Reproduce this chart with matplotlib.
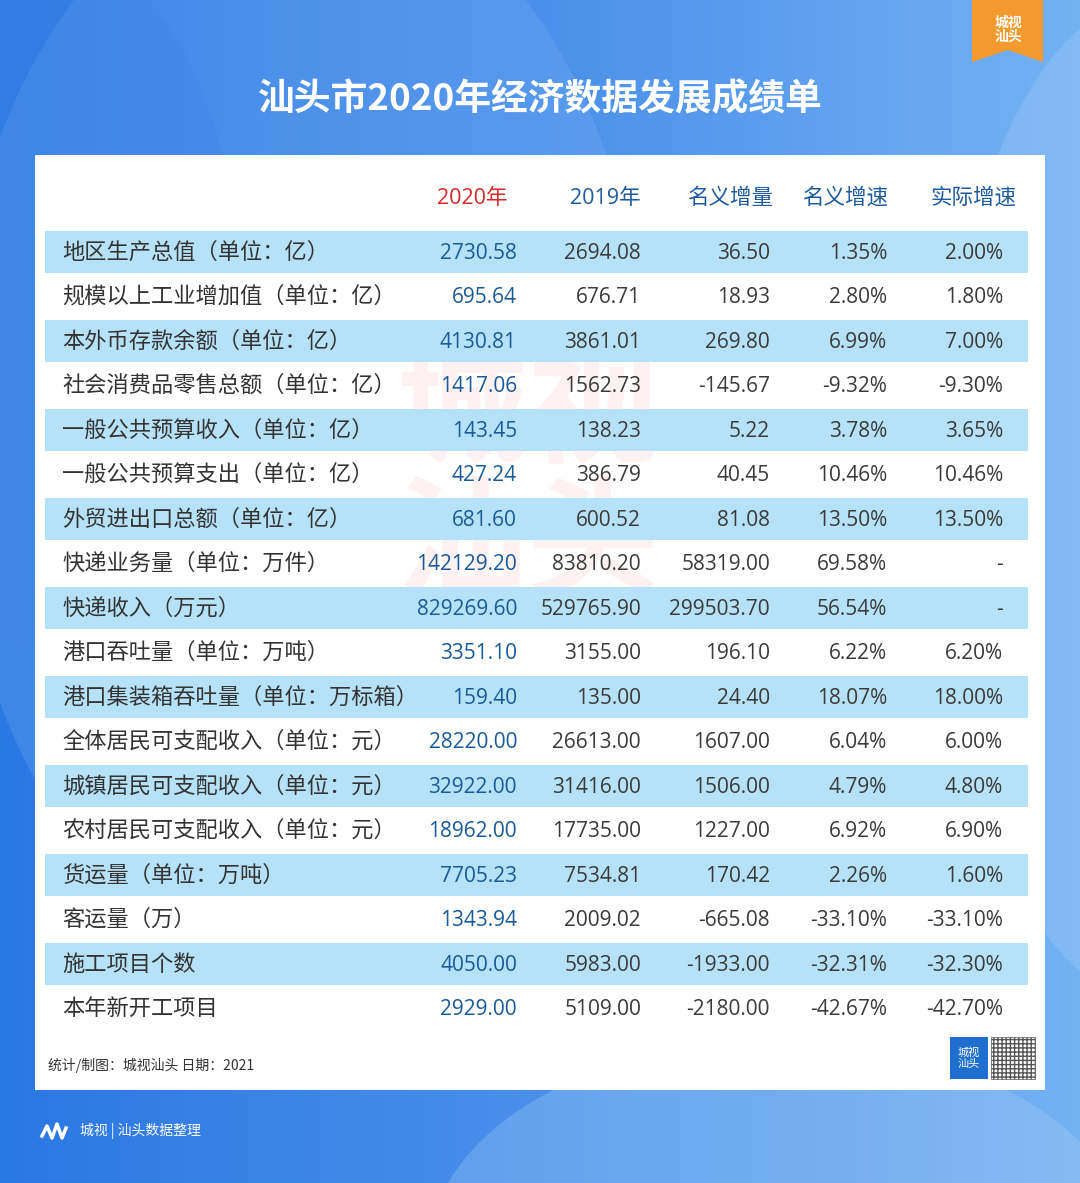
import matplotlib.pyplot as plt
from matplotlib.patches import Rectangle, Polygon, Ellipse
from matplotlib.colors import LinearSegmentedColormap
import numpy as np

plt.rcParams['font.family'] = ['Noto Sans CJK SC', 'DejaVu Sans']
NUM_FONT = ['Open Sans', 'Noto Sans CJK SC']

# table data
title = "汕头市2020年经济数据发展成绩单"
headers = ["2020年", "2019年", "名义增量", "名义增速", "实际增速"]
items = ["地区生产总值（单位：亿）", "规模以上工业增加值（单位：亿）", "本外币存款余额（单位：亿）",
         "社会消费品零售总额（单位：亿）", "一般公共预算收入（单位：亿）", "一般公共预算支出（单位：亿）",
         "外贸进出口总额（单位：亿）", "快递业务量（单位：万件）", "快递收入（万元）",
         "港口吞吐量（单位：万吨）", "港口集装箱吞吐量（单位：万标箱）", "全体居民可支配收入（单位：元）",
         "城镇居民可支配收入（单位：元）", "农村居民可支配收入（单位：元）", "货运量（单位：万吨）",
         "客运量（万）", "施工项目个数", "本年新开工项目"]
v2020 = ["2730.58", "695.64", "4130.81", "1417.06", "143.45", "427.24", "681.60", "142129.20",
         "829269.60", "3351.10", "159.40", "28220.00", "32922.00", "18962.00", "7705.23",
         "1343.94", "4050.00", "2929.00"]
v2019 = ["2694.08", "676.71", "3861.01", "1562.73", "138.23", "386.79", "600.52", "83810.20",
         "529765.90", "3155.00", "135.00", "26613.00", "31416.00", "17735.00", "7534.81",
         "2009.02", "5983.00", "5109.00"]
nominal_inc = ["36.50", "18.93", "269.80", "-145.67", "5.22", "40.45", "81.08", "58319.00",
               "299503.70", "196.10", "24.40", "1607.00", "1506.00", "1227.00", "170.42",
               "-665.08", "-1933.00", "-2180.00"]
nominal_rate = ["1.35%", "2.80%", "6.99%", "-9.32%", "3.78%", "10.46%", "13.50%", "69.58%",
                "56.54%", "6.22%", "18.07%", "6.04%", "4.79%", "6.92%", "2.26%",
                "-33.10%", "-32.31%", "-42.67%"]
real_rate = ["2.00%", "1.80%", "7.00%", "-9.30%", "3.65%", "10.46%", "13.50%", "-", "-",
             "6.20%", "18.00%", "6.00%", "4.80%", "6.90%", "1.60%", "-33.10%", "-32.30%", "-42.70%"]

W, H = 1080, 1183
fig = plt.figure(figsize=(W / 100, H / 100), dpi=100)
ax = fig.add_axes([0, 0, 1, 1])
ax.set_xlim(0, W)
ax.set_ylim(H, 0)
ax.axis('off')

# background gradient
grad = np.linspace(0, 1, 256).reshape(1, -1)
bg = LinearSegmentedColormap.from_list('bg', ['#2a78e4', '#4a90ea', '#74b2f4'])
ax.imshow(grad, cmap=bg, extent=[0, W, H, 0], aspect='auto', zorder=0)
# soft shapes
ax.add_patch(Ellipse((300, 420), 700, 1100, color='#7fb5f2', alpha=0.25, zorder=1, lw=0))
ax.add_patch(Ellipse((1150, 500), 420, 1000, color='#9ccaf8', alpha=0.35, zorder=1, lw=0))
ax.add_patch(Ellipse((780, 1250), 700, 420, color='#a9cff6', alpha=0.3, zorder=1, lw=0))
ax.add_patch(Ellipse((50, 300), 380, 700, color='#3f86e8', alpha=0.35, zorder=1, lw=0))

# orange badge
ax.add_patch(Polygon([(972, 0), (1043, 0), (1043, 62), (1008, 50), (972, 62)],
                     closed=True, color='#f39a2e', zorder=2, lw=0))
ax.text(1008, 30, "城视\n汕头", color='white', fontsize=10, fontweight='bold',
        ha='center', va='center', linespacing=1.0, zorder=3)

# title
ax.text(540, 100, title, color='white', fontsize=26.5, fontweight='bold',
        ha='center', va='center', zorder=3)

# white panel
ax.add_patch(Rectangle((35, 155), 1010, 935, color='white', zorder=2, lw=0))

# watermark
ax.text(527, 480, "城视\n汕头", color='#e8443a', alpha=0.07, fontsize=95,
        fontweight='bold', ha='center', va='center', linespacing=1.0, zorder=3)

# header
head_x = [508, 641, 773, 888, 1016]
for j, h in enumerate(headers):
    ax.text(head_x[j], 198, h, color='#d42a2a' if j == 0 else '#1d5b9e',
            fontsize=15.5, ha='right', va='center', zorder=4, family=NUM_FONT)

# rows
row0, dy = 252, 44.5
val_x = [517, 641, 770, 887, 1003]
cols = [v2020, v2019, nominal_inc, nominal_rate, real_rate]
for i, name in enumerate(items):
    y = row0 + i * dy
    if i % 2 == 0:
        ax.add_patch(Rectangle((45, y - 21), 983, 42, color='#b5e2f8', zorder=3, lw=0))
    ax.text(62, y, name, color='#333333', fontsize=16, ha='left', va='center', zorder=4)
    for j, col in enumerate(cols):
        ax.text(val_x[j], y + 1, col[i], color='#1a5a98' if j == 0 else '#3a3a3a',
                fontsize=15, ha='right', va='center', zorder=4, family=NUM_FONT)

# footer
ax.text(48, 1065, "统计/制图：城视汕头 日期：2021", color='#333333', fontsize=10,
        ha='left', va='center', zorder=4)
ax.add_patch(Rectangle((950, 1037), 38, 42, color='#1f6fd0', zorder=4, lw=0))
ax.text(969, 1058, "城视\n汕头", color='white', fontsize=8, ha='center', va='center',
        linespacing=1.0, zorder=5)
ax.add_patch(Rectangle((991, 1037), 44, 42, facecolor='white', edgecolor='#555555',
                       hatch='++++', lw=0.5, zorder=4))

# bottom logo
ax.plot([42, 47, 52, 57, 62, 66], [1136, 1126, 1138, 1124, 1138, 1128], color='white', lw=2.5, zorder=4)
ax.text(80, 1131, "城视 | 汕头数据整理", color='white', fontsize=10, ha='left', va='center', zorder=4)

fig.savefig('out.png', dpi=100)
